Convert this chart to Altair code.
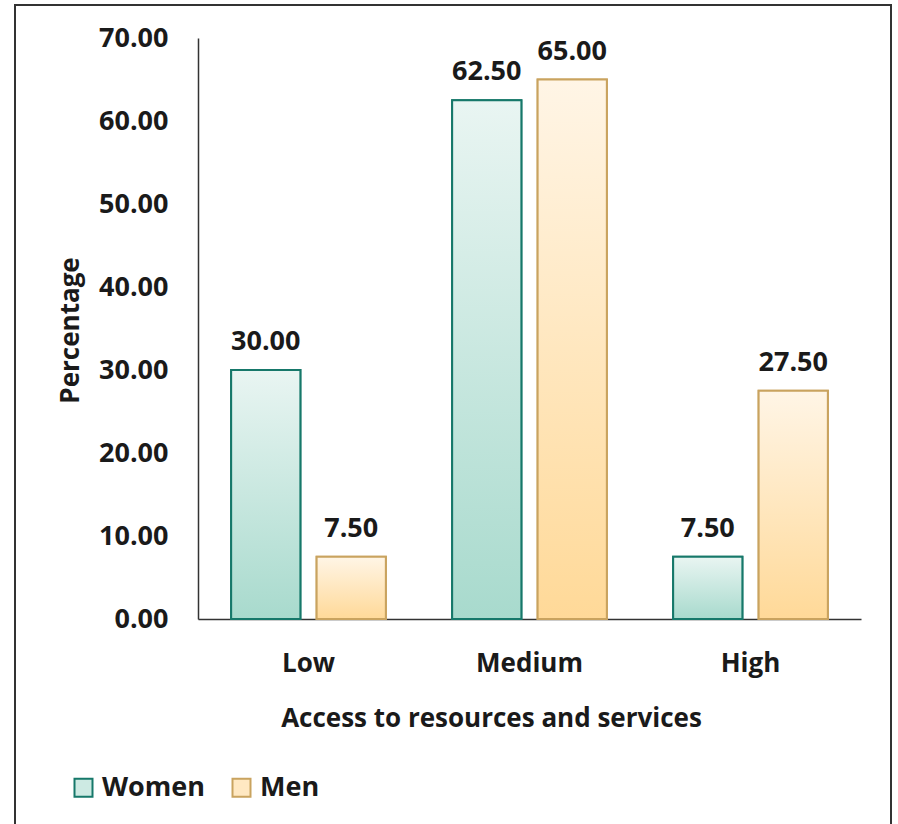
import altair as alt
import pandas as pd

# Share of respondents by level of access, per gender
categories = ["Low", "Medium", "High"]
series_names = ["Women", "Men"]
women = [30.00, 62.50, 7.50]
men = [7.50, 65.00, 27.50]
y_ticks = [0, 10, 20, 30, 40, 50, 60, 70]

rows = []
for cat, w, m in zip(categories, women, men):
    rows.append({"level": cat, "series": "Women", "value": w})
    rows.append({"level": cat, "series": "Men", "value": m})
df = pd.DataFrame(rows)

FONT = "Open Sans"
INK = "#1a1a1a"

stroke_colors = ["#16786a", "#c9a35f"]
legend_fills = ["#cdeae3", "#ffe8c2"]

grad_women = {
    "gradient": "linear", "x1": 0, "y1": 0, "x2": 0, "y2": 1,
    "stops": [{"offset": 0, "color": "#e9f5f2"}, {"offset": 1, "color": "#a8dacd"}],
}
grad_men = {
    "gradient": "linear", "x1": 0, "y1": 0, "x2": 0, "y2": 1,
    "stops": [{"offset": 0, "color": "#fff5e6"}, {"offset": 1, "color": "#ffd998"}],
}

axis_text = dict(
    labelFont=FONT, labelFontWeight="bold", labelColor=INK,
    titleFont=FONT, titleFontWeight="bold", titleColor=INK,
    domainColor="#333333", domainWidth=1.5,
)

x_enc = alt.X(
    "level:N",
    sort=categories,
    scale=alt.Scale(paddingInner=0.3, paddingOuter=0.15),
    axis=alt.Axis(
        title="Access to resources and services",
        labelAngle=0,
        ticks=False,
        labelPadding=52,
        labelBaseline="alphabetic",
        labelFontSize=26,
        titleFontSize=26,
        titleBaseline="alphabetic",
        titleX=293,
        titleY=107,
        titleAnchor="start",
        titleAlign="center",
        **axis_text,
    ),
)
xoff_enc = alt.XOffset(
    "series:N", sort=series_names,
    scale=alt.Scale(domain=series_names, paddingInner=0.19, paddingOuter=0),
)
y_enc = alt.Y(
    "value:Q",
    scale=alt.Scale(domain=[0, 70], nice=False),
    axis=alt.Axis(
        title="Percentage",
        values=y_ticks,
        format=".2f",
        ticks=False,
        grid=False,
        labelPadding=30,
        labelFontSize=27,
        titleFontSize=26,
        titleAngle=270,
        titleBaseline="alphabetic",
        titleAlign="center",
        titleX=-120,
        titleY=292,
        **axis_text,
    ),
)

base = alt.Chart(df).encode(x=x_enc, xOffset=xoff_enc, y=y_enc)

# Solid layer: carries the legend (fill + stroke merged)
legend_bars = base.mark_bar(strokeWidth=2).encode(
    fill=alt.Fill(
        "series:N", sort=series_names,
        scale=alt.Scale(domain=series_names, range=legend_fills),
        legend=alt.Legend(
            title=None,
            orient="none",
            direction="horizontal",
            legendX=-128,
            legendY=736,
            symbolType="square",
            symbolSize=324,
            symbolStrokeWidth=2,
            labelFont=FONT,
            labelFontWeight="bold",
            labelColor=INK,
            labelFontSize=27,
            labelOffset=5,
            columnPadding=22,
        ),
    ),
    stroke=alt.Stroke(
        "series:N", sort=series_names,
        scale=alt.Scale(domain=series_names, range=stroke_colors),
    ),
)

# Gradient-filled bars drawn on top
grad_bars = base.mark_bar(strokeWidth=2).encode(
    fill=alt.condition("datum.series == 'Women'", alt.value(grad_women), alt.value(grad_men)),
    stroke=alt.Stroke("series:N", sort=series_names, legend=None),
)

labels = base.mark_text(
    baseline="alphabetic", dy=-20, font=FONT, fontWeight="bold", fontSize=27, color=INK,
).encode(text=alt.Text("value:Q", format=".2f"))

frame = alt.Chart(alt.Data(values=[{}])).mark_rect(
    fillOpacity=0, stroke="#333333", strokeWidth=2,
).encode(
    x=alt.value(-183), x2=alt.value(693), y=alt.value(-33), y2=alt.value(820),
)

chart = alt.layer(frame, legend_bars, grad_bars, labels).properties(
    width=663,
    height=581,
    background="white",
    autosize=alt.AutoSizeParams(type="none"),
    padding={"left": 198, "top": 38, "right": 37, "bottom": 205},
).configure_view(
    strokeWidth=0,
)

chart.save("out.html", embed_options={"renderer": "svg", "actions": False})
